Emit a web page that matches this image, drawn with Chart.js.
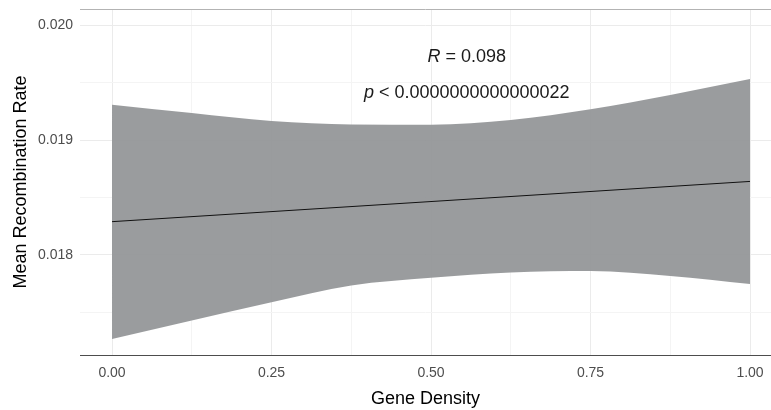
<!DOCTYPE html>
<html>
<head>
<meta charset="utf-8">
<script src="https://cdn.jsdelivr.net/npm/chart.js@4"></script>
<style>
  html, body { margin: 0; padding: 0; background: #fff; }
  #wrap { width: 771px; height: 410px; }
</style>
</head>
<body>
<div id="wrap"><canvas id="chart"></canvas></div>
<script>
// gene density positions where the confidence band was read
const density = [0, 0.125, 0.25, 0.375, 0.5, 0.625, 0.75, 0.875, 1];
const bandUpper = [0.019307, 0.019235, 0.019165, 0.019135, 0.019133, 0.019174, 0.019267, 0.019391, 0.019530];
const bandLower = [0.017270, 0.017430, 0.017589, 0.017735, 0.017802, 0.017848, 0.017861, 0.017817, 0.017748];

// fitted line end points
const fitX = [0, 1];
const fitY = [0.01829, 0.01864];

const xTicks = [0, 0.125, 0.25, 0.375, 0.5, 0.625, 0.75, 0.875, 1];
const xLabels = ['0.00', '', '0.25', '', '0.50', '', '0.75', '', '1.00'];
const yTicks = [0.0175, 0.018, 0.0185, 0.019, 0.0195, 0.020];
const yLabels = ['', '0.018', '', '0.019', '', '0.020'];
const yMin = 0.01713, yMax = 0.02014;

const statText = ['R = 0.098', 'p < 0.0000000000000022'];
const statPos = [[0.556, 0.019722], [0.556, 0.019409]];

const FONT = 'Liberation Sans, Arial, sans-serif';

const pts = (xs, ys) => xs.map((x, i) => ({x: x, y: ys[i]}));

const statsPlugin = {
  id: 'stats',
  afterDatasetsDraw(chart) {
    const ctx = chart.ctx, xs = chart.scales.x, ys = chart.scales.y;
    ctx.save();
    ctx.fillStyle = '#1a1a1a';
    ctx.textBaseline = 'middle';
    statText.forEach((t, i) => {
      const cx = xs.getPixelForValue(statPos[i][0]);
      const cy = ys.getPixelForValue(statPos[i][1]);
      const first = t.slice(0, 1), rest = t.slice(1);
      ctx.font = 'italic 18px ' + FONT;
      const w1 = ctx.measureText(first).width;
      ctx.font = '18px ' + FONT;
      const w2 = ctx.measureText(rest).width;
      const x0 = cx - (w1 + w2) / 2;
      ctx.textAlign = 'left';
      ctx.font = 'italic 18px ' + FONT;
      ctx.fillText(first, x0, cy);
      ctx.font = '18px ' + FONT;
      ctx.fillText(rest, x0 + w1, cy);
    });
    ctx.restore();
  }
};

new Chart(document.getElementById('chart'), {
  type: 'line',
  data: {
    datasets: [
      {
        data: pts(density, bandUpper),
        borderWidth: 0,
        pointRadius: 0,
        cubicInterpolationMode: 'monotone',
        backgroundColor: 'rgba(146,148,151,0.93)',
        fill: '+1'
      },
      {
        data: pts(density, bandLower),
        borderWidth: 0,
        pointRadius: 0,
        cubicInterpolationMode: 'monotone',
        fill: false
      },
      {
        data: pts(fitX, fitY),
        borderColor: '#111111',
        borderWidth: 1,
        pointRadius: 0,
        fill: false
      }
    ]
  },
  options: {
    responsive: true,
    maintainAspectRatio: false,
    animation: false,
    layout: { padding: { top: 9, right: 0, bottom: 0, left: 0 } },
    plugins: {
      legend: { display: false },
      tooltip: { enabled: false },
      filler: { drawTime: 'beforeDatasetsDraw' }
    },
    scales: {
      x: {
        type: 'linear',
        min: -0.0502,
        max: 1.0329,
        afterBuildTicks: s => { s.ticks = xTicks.map(v => ({value: v})); },
        afterFit: s => { s.height = 55; s.paddingLeft = 0; s.paddingRight = 0; },
        border: { display: true, color: '#4d4d4d', width: 1 },
        grid: {
          drawTicks: false,
          color: c => (xLabels[xTicks.indexOf(c.tick && c.tick.value)] ? '#ebebeb' : '#f4f4f4'),
          lineWidth: 1
        },
        ticks: {
          padding: 10,
          color: '#4d4d4d',
          font: { family: FONT, size: 14 },
          maxRotation: 0,
          autoSkip: false,
          callback: (v, i) => xLabels[i]
        },
        title: {
          display: true,
          text: 'Gene Density',
          color: '#000',
          font: { family: FONT, size: 18 },
          padding: { top: 2, bottom: 0 }
        }
      },
      y: {
        min: yMin,
        max: yMax,
        afterBuildTicks: s => { s.ticks = yTicks.concat([yMax]).map(v => ({value: v})); },
        afterFit: s => { s.width = 80; s.paddingTop = 0; s.paddingBottom = 0; },
        border: { display: false },
        grid: {
          drawTicks: false,
          color: c => {
            const v = c.tick && c.tick.value;
            if (v === yMax) return '#b3b3b3';
            return yLabels[yTicks.indexOf(v)] ? '#ebebeb' : '#f4f4f4';
          },
          lineWidth: 1
        },
        ticks: {
          padding: 7,
          color: '#4d4d4d',
          font: { family: FONT, size: 14 },
          autoSkip: false,
          callback: (v, i) => (i < yLabels.length ? yLabels[i] : '')
        },
        title: {
          display: true,
          text: 'Mean Recombination Rate',
          color: '#000',
          font: { family: FONT, size: 18 },
          padding: { top: 10, bottom: 0 }
        }
      }
    }
  },
  plugins: [statsPlugin]
});
</script>
</body>
</html>
